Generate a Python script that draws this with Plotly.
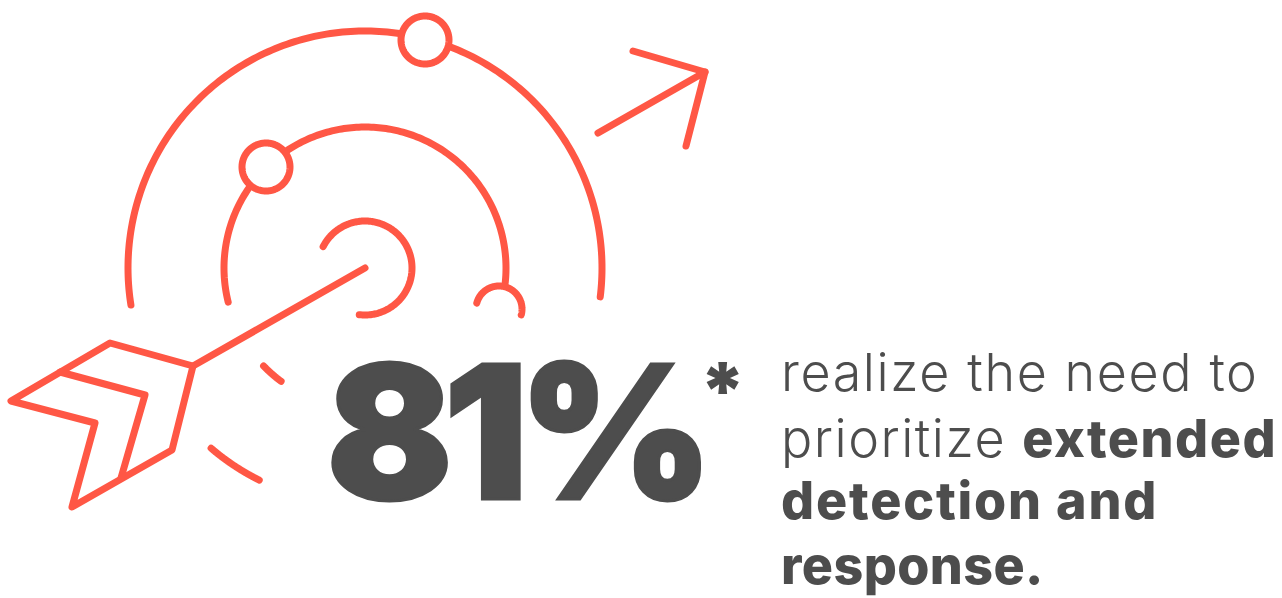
import numpy as np
import plotly.graph_objects as go

CORAL = "#FF5745"
GREY = "#4D4D4D"
LW = 7

# Icon parts, in picture pixels
centre = (365, 268)
arc_radius = [237, 141, 47]
outer_arc_deg = [-189, 7]
outer_dash_deg = [130.5, 116.5]
middle_arc_deg = [-194, 6]
middle_dash_deg = [136, 126.5]
inner_arc_deg = [-153, 97]
hook_centre = (499, 309)
hook_radius = 23
hook_deg = [-165, 15]
ring_centres = [(425, 40), (266, 167)]
ring_radius = 24
shaft = [(365, 268), (193, 366)]
fletch_x = [193, 110, 11, 95, 72, 172, 193]
fletch_y = [366, 343, 401, 423, 507, 450, 366]
fletch_inner_x = [60, 145, 121]
fletch_inner_y = [372, 395, 478]
head_x = [598, 705, 633, None, 705, 686]
head_y = [133, 72, 51, None, 72, 146]

headline = "81%"
star = "*"
LIGHT = '<span style="font-weight:300">%s</span>'
HEAVY = '<span style="font-weight:800">%s</span>'
caption = [
    (LIGHT % "realize the need to", 372),
    (LIGHT % "prioritize " + HEAVY % "extended", 438),
    (HEAVY % "detection and", 500),
    (HEAVY % "response.", 565),
]


def arc(c, r, deg):
    t = np.radians(np.linspace(deg[0], deg[1], 200))
    return c[0] + r * np.cos(t), c[1] + r * np.sin(t)


fig = go.Figure()


def line(x, y):
    fig.add_trace(go.Scatter(x=list(x), y=list(y), mode="lines", hoverinfo="skip",
                             line=dict(color=CORAL, width=LW, simplify=False), showlegend=False))


for r, deg in [(arc_radius[0], outer_arc_deg), (arc_radius[0], outer_dash_deg),
               (arc_radius[1], middle_arc_deg), (arc_radius[1], middle_dash_deg),
               (arc_radius[2], inner_arc_deg)]:
    line(*arc(centre, r, deg))
line(*arc(hook_centre, hook_radius, hook_deg))
line(*zip(*shaft))
line(fletch_x, fletch_y)
line(fletch_inner_x, fletch_inner_y)
line(head_x, head_y)
for c in ring_centres:
    x, y = arc(c, ring_radius, [0, 360])
    fig.add_trace(go.Scatter(x=x, y=y, mode="lines", fill="toself", fillcolor="white", hoverinfo="skip",
                             line=dict(color=CORAL, width=LW, simplify=False), showlegend=False))

fig.add_annotation(x=515.5, y=431, text=headline, showarrow=False, xanchor="center", yanchor="middle",
                   font=dict(family="Inter", size=186, color=GREY, weight=900))
fig.add_annotation(x=722, y=390, text=star, showarrow=False, xanchor="center", yanchor="middle",
                   font=dict(family="Inter", size=78, color=GREY, weight=900))
for txt, y in caption:
    fig.add_annotation(x=779, y=y, text=txt, showarrow=False, xanchor="left", yanchor="middle", align="left",
                       font=dict(family="Inter", size=52, color=GREY))

fig.update_xaxes(range=[0, 1282], visible=False, fixedrange=True)
fig.update_yaxes(range=[598, 0], visible=False, fixedrange=True)
fig.update_layout(width=1282, height=598, margin=dict(l=0, r=0, t=0, b=0),
                  paper_bgcolor="white", plot_bgcolor="white", showlegend=False)
fig.write_html("out.html", config={"displayModeBar": False},
               post_script=("document.body.style.margin='0';"
                            "document.querySelectorAll('.js-line').forEach(function(p){"
                            "p.style.strokeLinecap='round';p.style.strokeLinejoin='round';});"
                            "var sp=[null,null,'1.6px','1.5px','1.8px','0.4px'];"
                            "document.querySelectorAll('.annotation-text').forEach(function(t,i){"
                            "if(i===0){t.style.letterSpacing='-9px';t.style.stroke='#4D4D4D';t.style.strokeWidth='3px';}"
                            "else if(i>1){t.style.letterSpacing=sp[i];}});"))
